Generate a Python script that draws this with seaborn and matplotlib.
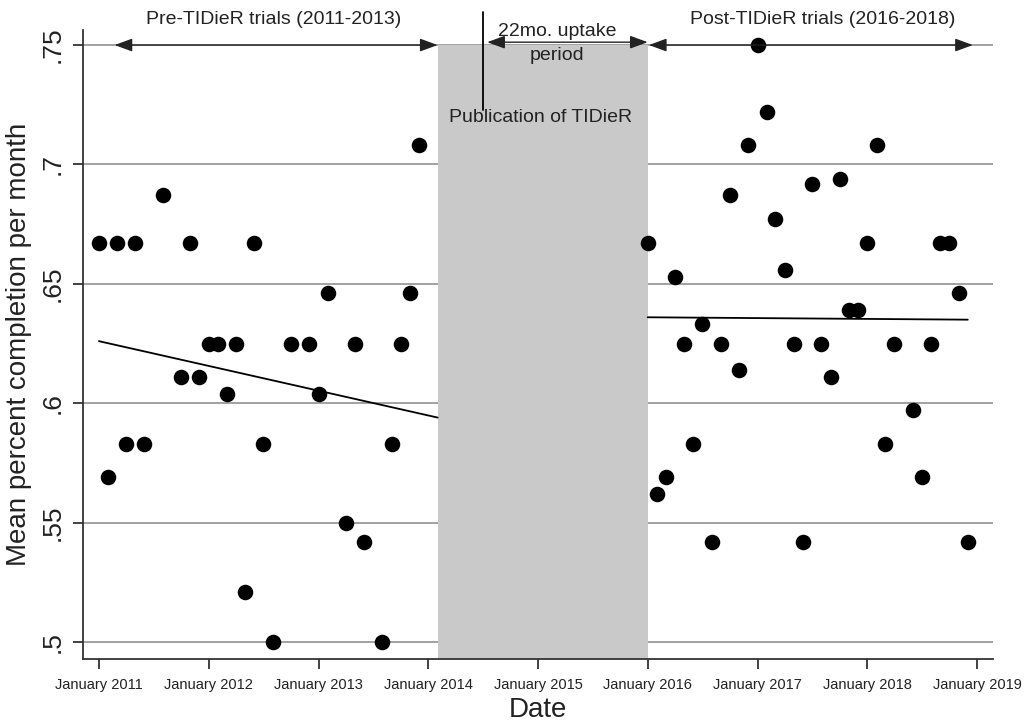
import matplotlib

matplotlib.use("Agg")
import matplotlib.dates as mdates
import matplotlib.pyplot as plt
import pandas as pd
import seaborn as sns

# Monthly mean completion, pre-TIDieR (2011-2013)
pre_months = [
    "2011-01", "2011-02", "2011-03", "2011-04", "2011-05", "2011-06", "2011-08",
    "2011-10", "2011-11", "2011-12", "2012-01", "2012-02", "2012-03", "2012-04",
    "2012-05", "2012-06", "2012-07", "2012-08", "2012-10", "2012-12", "2013-01",
    "2013-02", "2013-04", "2013-05", "2013-06", "2013-08", "2013-09", "2013-10",
    "2013-11", "2013-12",
]
pre_values = [
    0.667, 0.569, 0.667, 0.583, 0.667, 0.583, 0.687,
    0.611, 0.667, 0.611, 0.625, 0.625, 0.604, 0.625,
    0.521, 0.667, 0.583, 0.500, 0.625, 0.625, 0.604,
    0.646, 0.550, 0.625, 0.542, 0.500, 0.583, 0.625,
    0.646, 0.708,
]

# Monthly mean completion, post-TIDieR (2016-2018)
post_months = [
    "2016-01", "2016-02", "2016-03", "2016-04", "2016-05", "2016-06", "2016-07",
    "2016-08", "2016-09", "2016-10", "2016-11", "2016-12", "2017-01", "2017-02",
    "2017-03", "2017-04", "2017-05", "2017-06", "2017-07", "2017-08", "2017-09",
    "2017-10", "2017-11", "2017-12", "2018-01", "2018-02", "2018-03", "2018-04",
    "2018-06", "2018-07", "2018-08", "2018-09", "2018-10", "2018-11", "2018-12",
]
post_values = [
    0.667, 0.562, 0.569, 0.653, 0.625, 0.583, 0.633,
    0.542, 0.625, 0.687, 0.614, 0.708, 0.750, 0.722,
    0.677, 0.656, 0.625, 0.542, 0.692, 0.625, 0.611,
    0.694, 0.639, 0.639, 0.667, 0.708, 0.583, 0.625,
    0.597, 0.569, 0.625, 0.667, 0.667, 0.646, 0.542,
]

# Linear fit lines (end points)
pre_fit_months = ["2011-01", "2014-02"]
pre_fit_values = [0.626, 0.594]
post_fit_months = ["2016-01", "2018-12"]
post_fit_values = [0.636, 0.635]

year_ticks = list(range(2011, 2020))
y_ticks = [0.5, 0.55, 0.6, 0.65, 0.7, 0.75]
y_tick_labels = [".5", ".55", ".6", ".65", ".7", ".75"]

sns.set_theme(style="white")
plt.rcParams["font.family"] = ["Liberation Sans", "DejaVu Sans"]

pre = pd.DataFrame({"date": pd.to_datetime(pre_months), "value": pre_values})
post = pd.DataFrame({"date": pd.to_datetime(post_months), "value": post_values})
pre_fit = pd.DataFrame({"date": pd.to_datetime(pre_fit_months), "value": pre_fit_values})
post_fit = pd.DataFrame({"date": pd.to_datetime(post_fit_months), "value": post_fit_values})


def d(s):
    return mdates.date2num(pd.Timestamp(s))


fig = plt.figure(figsize=(10.25, 7.22), dpi=100)
ax = fig.add_axes([83 / 1025, 1 - 659 / 722, 910 / 1025, 629 / 722])

y_lo, y_hi = 0.4929, 0.7563
ax.set_ylim(y_lo, y_hi)
ax.set_xlim(d("2011-01-01") - 53, d("2019-01-01") + 53)

# grid lines
for yv in y_ticks:
    ax.axhline(yv, color="#9a9a9a", lw=1.3, zorder=0.5)

# uptake period band
ax.fill_between([d("2014-02-01"), d("2016-01-01")], y_lo, 0.75,
                color="#c9c9c9", lw=0, zorder=1)

sns.scatterplot(data=pre, x="date", y="value", color="black", s=125,
                linewidth=0, ax=ax, zorder=3)
sns.scatterplot(data=post, x="date", y="value", color="black", s=125,
                linewidth=0, ax=ax, zorder=3)
sns.lineplot(data=pre_fit, x="date", y="value", color="black", lw=1.3,
             ax=ax, zorder=2)
sns.lineplot(data=post_fit, x="date", y="value", color="black", lw=1.3,
             ax=ax, zorder=2)

# period arrows
arrow = dict(arrowstyle="<|-|>,head_length=0.6,head_width=0.22", color="#222222",
             lw=1.0, shrinkA=0, shrinkB=0, mutation_scale=18)
ax.annotate("", xy=(d("2011-02-22"), 0.75), xytext=(d("2014-02-01"), 0.75),
            arrowprops=arrow, annotation_clip=False, zorder=4)
ax.annotate("", xy=(d("2014-07-16"), 0.7512), xytext=(d("2016-01-01"), 0.7512),
            arrowprops=arrow, annotation_clip=False, zorder=4)
ax.annotate("", xy=(d("2016-01-05"), 0.75), xytext=(d("2018-12-18"), 0.75),
            arrowprops=arrow, annotation_clip=False, zorder=4)

ax.text(d("2012-08-05"), 0.7605, "Pre-TIDieR trials (2011-2013)", ha="center",
        va="center", fontsize=14, color="#222222", clip_on=False)
ax.text(d("2017-08-05"), 0.7605, "Post-TIDieR trials (2016-2018)", ha="center",
        va="center", fontsize=14, color="#222222", clip_on=False)
ax.text(d("2015-03-05"), 0.7557, "22mo. uptake", ha="center", va="center",
        fontsize=14, color="#222222", clip_on=False, zorder=5)
ax.text(d("2015-03-05"), 0.7457, "period", ha="center", va="center",
        fontsize=14, color="#222222", zorder=5)

# publication marker
ax.plot([d("2014-07-01"), d("2014-07-01")], [0.7638, 0.7228], color="black",
        lw=1.3, clip_on=False, zorder=5)
ax.text(d("2014-03-10"), 0.7197, "Publication of TIDieR", ha="left", va="center",
        fontsize=14, color="#222222", zorder=5)

# axes styling
for side in ["top", "right"]:
    ax.spines[side].set_visible(False)
for side in ["left", "bottom"]:
    ax.spines[side].set_color("#333333")
    ax.spines[side].set_linewidth(1.3)

ax.set_xticks([d(f"{y}-01-01") for y in year_ticks])
ax.set_xticklabels([f"January {y}" for y in year_ticks], fontsize=10.5,
                   color="#222222")
ax.set_yticks(y_ticks)
ax.set_yticklabels(y_tick_labels, fontsize=19, rotation=90, va="center",
                   color="#222222")
ax.tick_params(axis="both", direction="out", length=7.5, width=1.3,
               color="#333333", bottom=True, left=True)
ax.tick_params(axis="x", pad=6)
ax.tick_params(axis="y", pad=6)

ax.set_xlabel("Date", fontsize=20, color="#222222", labelpad=4)
ax.set_ylabel("Mean percent completion per month", fontsize=20, color="#222222",
              labelpad=6)

fig.savefig("out.png", dpi=100)
